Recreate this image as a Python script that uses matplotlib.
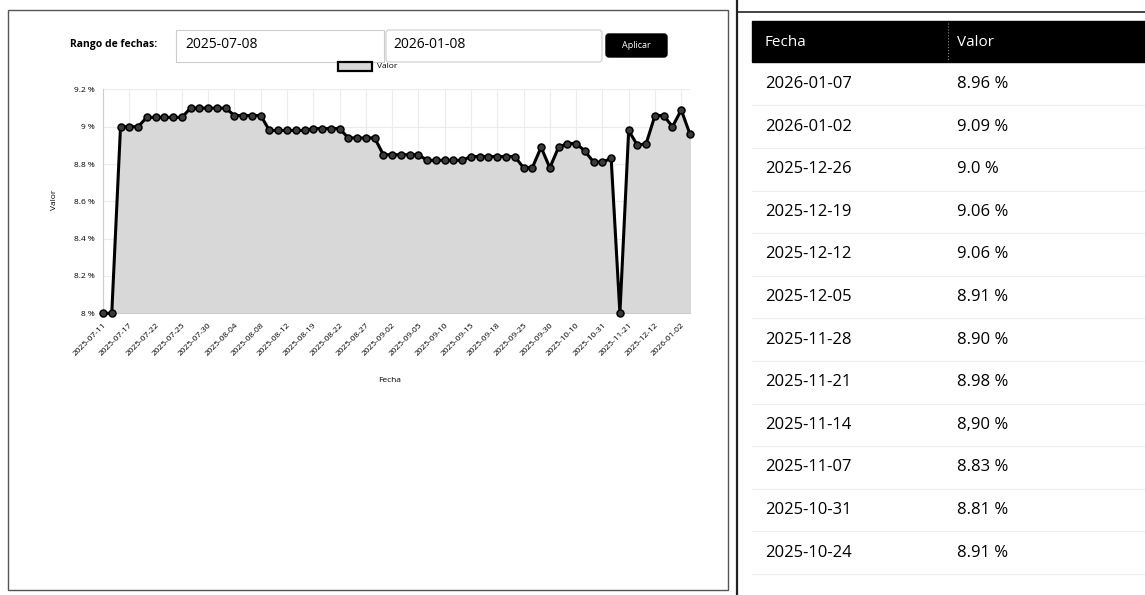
import matplotlib
matplotlib.use("Agg")
import matplotlib.pyplot as plt
from matplotlib.patches import Rectangle, FancyBboxPatch

plt.rcParams['font.family'] = ['Open Sans', 'DejaVu Sans']

# ---------------- data ----------------
values = [8.00, 8.00,
          9.00, 9.00, 9.00,
          9.05, 9.05, 9.05, 9.05, 9.05,
          9.10, 9.10, 9.10, 9.10, 9.10,
          9.06, 9.06, 9.06, 9.06,
          8.98, 8.98, 8.98, 8.98, 8.98,
          8.99, 8.99, 8.99, 8.99,
          8.94, 8.94, 8.94, 8.94,
          8.85, 8.85, 8.85, 8.85, 8.85,
          8.82, 8.82, 8.82, 8.82, 8.82,
          8.84, 8.84, 8.84, 8.84, 8.84, 8.84,
          8.78, 8.78, 8.89, 8.78, 8.89, 8.91, 8.91, 8.87, 8.81,
          8.81, 8.83, 8.00,
          8.98, 8.90, 8.91, 9.06, 9.06, 9.00, 9.09, 8.96]

tick_labels = ["2025-07-11", "2025-07-17", "2025-07-22", "2025-07-25", "2025-07-30",
               "2025-08-04", "2025-08-08", "2025-08-12", "2025-08-19", "2025-08-22",
               "2025-08-27", "2025-09-02", "2025-09-05", "2025-09-10", "2025-09-15",
               "2025-09-18", "2025-09-25", "2025-09-30", "2025-10-10", "2025-10-31",
               "2025-11-21", "2025-12-12", "2026-01-02"]
tick_step = 3

y_ticks = [8.0, 8.2, 8.4, 8.6, 8.8, 9.0, 9.2]
y_tick_labels = ["8 %", "8.2 %", "8.4 %", "8.6 %", "8.8 %", "9 %", "9.2 %"]

range_start = "2025-07-08"
range_end = "2026-01-08"

table_dates = ["2026-01-07", "2026-01-02", "2025-12-26", "2025-12-19", "2025-12-12",
               "2025-12-05", "2025-11-28", "2025-11-21", "2025-11-14", "2025-11-07",
               "2025-10-31", "2025-10-24"]
table_values = ["8.96 %", "9.09 %", "9.0 %", "9.06 %", "9.06 %", "8.91 %",
                "8.90 %", "8.98 %", "8,90 %", "8.83 %", "8.81 %", "8.91 %"]

# ---------------- figure ----------------
W, H = 1145, 595
fig = plt.figure(figsize=(W / 100, H / 100), dpi=100)
fig.patch.set_facecolor("white")

# overlay axes in pixel coordinates
ov = fig.add_axes([0, 0, 1, 1], zorder=0)
ov.set_xlim(0, W)
ov.set_ylim(H, 0)
ov.axis("off")

# left card border
ov.add_patch(Rectangle((8, 10), 720, 580, fill=False, edgecolor="#555555", lw=1.0))
# right panel separator and top line
ov.plot([737, 737], [0, 595], color="#222222", lw=1.6)
ov.plot([737, 1145], [12, 12], color="#222222", lw=1.2)

# controls
ov.text(70, 44, "Rango de fechas:", fontsize=7.5, fontweight="bold", va="center", ha="left")
ov.add_patch(Rectangle((176, 30), 208, 32, fill=False, edgecolor="#cccccc", lw=0.8))
ov.add_patch(FancyBboxPatch((386, 30), 216, 32, boxstyle="round,pad=0,rounding_size=3",
                            fill=False, edgecolor="#cccccc", lw=0.8))
ov.text(185, 45, range_start, fontsize=10, va="center", ha="left")
ov.text(393, 45, range_end, fontsize=10, va="center", ha="left")
ov.add_patch(FancyBboxPatch((606, 34), 61, 23, boxstyle="round,pad=0,rounding_size=3",
                            facecolor="black", edgecolor="black"))
ov.text(636.5, 46, "Aplicar", fontsize=6.5, color="white", va="center", ha="center")

# legend
ov.add_patch(Rectangle((338, 62), 34, 9, facecolor="#d8d8d8", edgecolor="black", lw=1.6))
ov.text(377, 66.5, "Valor", fontsize=6, va="center", ha="left")

# axis titles
ov.text(55, 200, "Valor", fontsize=6, rotation=90, va="center", ha="center")
ov.text(390, 380, "Fecha", fontsize=6, va="center", ha="center")

# table
ov.add_patch(Rectangle((752, 21), 393, 41, facecolor="black", edgecolor="black"))
ov.plot([948, 948], [23, 60], color="#888888", lw=0.8, ls=":")
ov.text(765, 42, "Fecha", fontsize=11, color="white", va="center", ha="left")
ov.text(957, 42, "Valor", fontsize=11, color="white", va="center", ha="left")
row0, row_h = 84, 42.6
for r, (d, v) in enumerate(zip(table_dates, table_values)):
    yc = row0 + r * row_h
    ov.text(765, yc, d, fontsize=12, va="center", ha="left")
    ov.text(957, yc, v, fontsize=12, va="center", ha="left")
    ov.plot([752, 1145], [yc + row_h / 2, yc + row_h / 2], color="#ededed", lw=0.8)

# ---------------- chart ----------------
left, right = 103, 690
top, bottom = 89.4, 313.3
ax = fig.add_axes([left / W, 1 - bottom / H, (right - left) / W, (bottom - top) / H], zorder=2)
ax.patch.set_alpha(0)

x = list(range(len(values)))
ymin, ymax = y_ticks[0], y_ticks[-1]
ax.fill_between(x, values, ymin, color="#d8d8d8", zorder=1)
ax.plot(x, values, color="black", lw=2.2, zorder=3, clip_on=False,
        marker="o", markersize=5, markerfacecolor="#3a3a3a", markeredgecolor="black",
        markeredgewidth=1.1)

ax.set_xlim(0, len(values) - 1)
ax.set_ylim(ymin, ymax)
ticks = list(range(0, len(values), tick_step))[:len(tick_labels)]
ax.set_xticks(ticks)
ax.set_xticklabels(tick_labels, rotation=45, ha="right", rotation_mode="anchor", fontsize=6)
ax.set_yticks(y_ticks)
ax.set_yticklabels(y_tick_labels, fontsize=6)
ax.tick_params(axis="both", length=0, pad=6)
ax.grid(True, color="#ececec", lw=0.8, zorder=0)
ax.set_axisbelow(True)
for s in ["top", "right"]:
    ax.spines[s].set_visible(False)
for s in ["left", "bottom"]:
    ax.spines[s].set_color("#cccccc")

fig.savefig("out.png", dpi=100, facecolor="white")
